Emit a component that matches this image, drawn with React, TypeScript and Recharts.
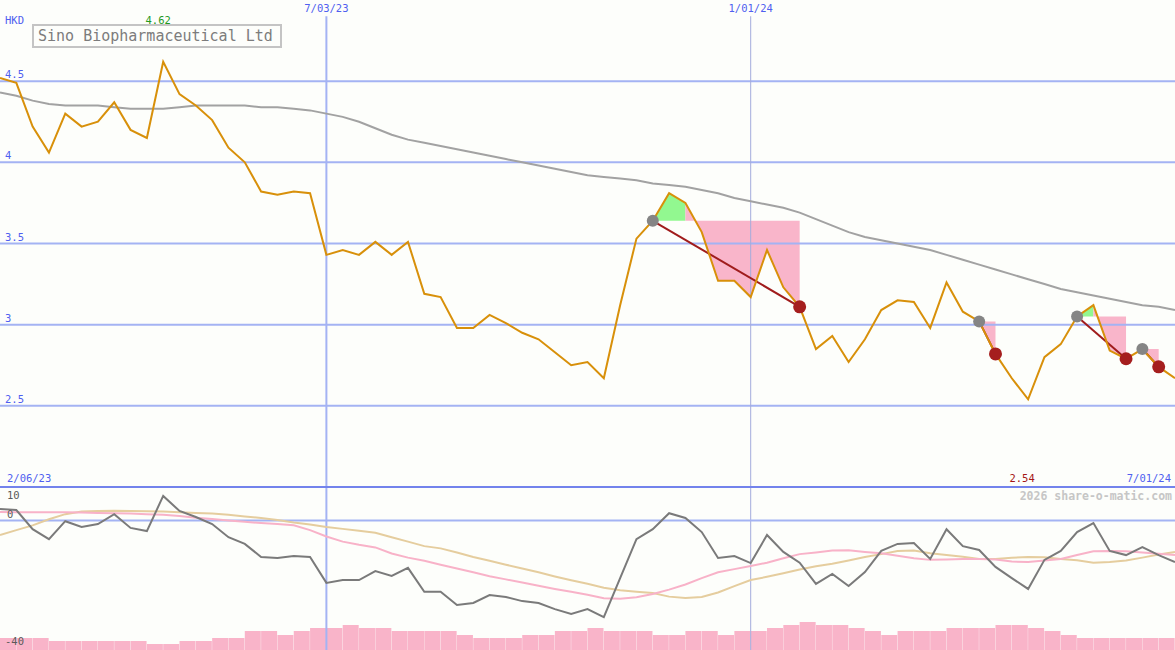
import React from 'react';
import { ComposedChart, BarChart, Bar, Line, Area, XAxis, YAxis, ReferenceLine } from 'recharts';

const W = 1175;
const TOP_H = 487;
const LOW_H = 163;

// weekly closes, HKD
const price = [
  4.52, 4.49, 4.22, 4.06, 4.3, 4.22, 4.25, 4.37, 4.2, 4.15,
  4.62, 4.42, 4.35, 4.26, 4.09, 4.0, 3.82, 3.8, 3.82, 3.81,
  3.43, 3.46, 3.43, 3.51, 3.43, 3.51, 3.19, 3.17, 2.98, 2.98,
  3.06, 3.01, 2.95, 2.91, 2.83, 2.75, 2.77, 2.67, 3.12, 3.53,
  3.64, 3.81, 3.75, 3.57, 3.27, 3.27, 3.17, 3.46, 3.23, 3.11,
  2.85, 2.93, 2.77, 2.91, 3.09, 3.15, 3.14, 2.98, 3.26, 3.08,
  3.02, 2.82, 2.67, 2.54, 2.8, 2.88, 3.05, 3.12, 2.84, 2.79,
  2.85, 2.74, 2.67,
];

// long moving average (grey)
const longMa = [
  4.43, 4.41, 4.38, 4.36, 4.35, 4.35, 4.35, 4.34, 4.33, 4.33,
  4.33, 4.34, 4.35, 4.35, 4.35, 4.35, 4.34, 4.34, 4.33, 4.32,
  4.3, 4.28, 4.25, 4.21, 4.17, 4.14, 4.12, 4.1, 4.08, 4.06,
  4.04, 4.02, 4.0, 3.98, 3.96, 3.94, 3.92, 3.91, 3.9, 3.89,
  3.87, 3.86, 3.85, 3.83, 3.81, 3.78, 3.76, 3.74, 3.72, 3.69,
  3.65, 3.61, 3.57, 3.54, 3.52, 3.5, 3.48, 3.46, 3.43, 3.4,
  3.37, 3.34, 3.31, 3.28, 3.25, 3.22, 3.2, 3.18, 3.16, 3.14,
  3.12, 3.11, 3.09,
];

// lower panel oscillator
const momentum = [
  3.6, 3.3, -2.7, -5.8, -0.2, -2.0, -1.1, 2.0, -2.3, -3.3,
  7.7, 3.0, 1.1, -1.1, -5.2, -7.3, -11.4, -11.7, -11.1, -11.4,
  -19.5, -18.6, -18.6, -15.8, -17.3, -14.8, -22.3, -22.3, -26.4, -25.8,
  -23.3, -23.9, -25.2, -25.8, -27.7, -29.2, -27.7, -30.2, -18.0, -5.8,
  -2.7, 2.3, 0.8, -3.6, -11.7, -11.1, -13.3, -4.5, -9.8, -13.2,
  -19.8, -16.7, -20.5, -16.1, -9.5, -7.3, -7.0, -12.0, -2.7, -8.0,
  -9.2, -14.5, -18.0, -21.4, -12.3, -9.5, -3.6, -0.8, -9.5, -10.8,
  -8.3, -10.8, -13.0,
];

const momentumFast = [
  2.7, 2.6, 2.6, 2.6, 2.6, 2.5, 2.4, 2.3, 2.2, 2.0,
  1.8, 1.4, 0.9, 0.5, 0.0, -0.4, -0.8, -1.1, -1.5, -3.0,
  -5.0, -6.6, -7.6, -8.4, -10.3, -11.6, -12.6, -13.8, -15.0, -16.2,
  -17.4, -18.4, -19.4, -20.4, -21.4, -22.3, -23.2, -24.3, -24.5, -24.0,
  -23.0, -21.6, -20.0, -18.0, -16.2, -15.2, -14.2, -13.2, -11.8, -10.5,
  -10.0, -9.4, -9.3, -9.8, -10.2, -11.0, -11.8, -12.3, -12.2, -12.0,
  -12.0, -12.2, -12.8, -13.0, -12.5, -12.0, -10.8, -9.6, -9.5, -9.6,
  -10.0, -10.4, -10.8,
];

const momentumSlow = [
  -4.5, -3.0, -1.5, 0.4, 2.0, 2.8, 3.0, 3.1, 3.0, 2.9,
  2.8, 2.6, 2.4, 2.2, 1.8, 1.3, 0.8, 0.2, -0.6, -1.2,
  -2.0, -2.6, -3.2, -3.8, -5.2, -6.6, -8.0, -8.7, -10.0, -11.4,
  -12.6, -13.8, -15.0, -16.2, -17.5, -18.7, -19.8, -21.0, -21.8, -22.3,
  -22.7, -23.8, -24.2, -23.9, -22.5, -20.5, -18.6, -17.6, -16.5, -15.3,
  -14.3, -13.5, -12.5, -11.4, -10.5, -9.5, -9.4, -10.2, -10.8, -11.3,
  -12.0, -12.0, -11.6, -11.4, -11.5, -12.0, -12.4, -13.2, -13.0, -12.5,
  -11.6, -10.6, -9.8,
];

// weekly volume (relative), one per week interval
const volume = [
  12, 12, 12, 9, 9, 9, 9, 9, 9, 6,
  6, 9, 9, 12, 12, 19, 19, 15, 19, 22,
  22, 25, 22, 22, 19, 19, 19, 19, 15, 12,
  12, 12, 15, 15, 19, 19, 22, 19, 19, 19,
  15, 15, 19, 19, 15, 19, 19, 22, 25, 28,
  25, 25, 22, 19, 15, 19, 19, 19, 22, 22,
  22, 25, 25, 22, 19, 15, 12, 12, 12, 12,
  12, 12,
];

const dateLabels = ['2/06/23', '7/03/23', '1/01/24', '7/01/24'];
const dateIndex = [0, 20, 46, 72];

// signal trades: entry week, best week, exit week
const signalStart = [40, 60, 66, 70];
const signalPeak = [42, 60, 67, 70];
const signalEnd = [49, 61, 69, 71];

const priceTicks = [2.5, 3, 3.5, 4, 4.5];
const oscTicks = [10, 0, -40];

const maxIdx = price.indexOf(Math.max(...price));
const minIdx = price.indexOf(Math.min(...price));

const rows = price.map((p, i) => {
  const row: Record<string, any> = {
    i,
    price: p,
    ma: longMa[i],
    mom: momentum[i],
    fast: momentumFast[i],
    slow: momentumSlow[i],
  };
  signalStart.forEach((s, k) => {
    const level = price[s];
    if (signalPeak[k] > s && i >= s && i <= signalPeak[k]) row['g' + k] = [level, p];
    if (i >= signalPeak[k] && i <= signalEnd[k]) row['p' + k] = [p, level];
    if (i === s || i === signalEnd[k]) row['t' + k] = p;
    if (i === s) row.entry = p;
    if (i === signalEnd[k]) row.exit = p;
  });
  return row;
});

const volRows = volume.map((v, i) => ({ wk: i, mid: i + 0.5, vol: v }));

const mono = '"DejaVu Sans Mono", "Liberation Mono", monospace';
const blue = '#4f5ff0';
const grid = '#a4b3f3';

const PriceTick = (props: any) => {
  const { y, payload } = props;
  return (
    <text x={5} y={y - 6} fill={blue} fontSize={10.5} fontFamily={mono} dominantBaseline="middle">
      {payload.value}
    </text>
  );
};

const DateTick = (props: any) => {
  const { x, payload } = props;
  const v = payload.value;
  if (v === maxIdx) {
    return (
      <text x={x - 5} y={21} fill="#1f9a1f" fontSize={10.5} fontFamily={mono} textAnchor="middle" dominantBaseline="middle">
        {price[v].toFixed(2)}
      </text>
    );
  }
  if (v === minIdx) {
    return (
      <text x={x - 6} y={479} fill="#a51616" fontSize={10.5} fontFamily={mono} textAnchor="middle" dominantBaseline="middle">
        {price[v].toFixed(2)}
      </text>
    );
  }
  const label = dateLabels[dateIndex.indexOf(v)];
  if (v === dateIndex[0]) {
    return (
      <text x={x + 7} y={479} fill={blue} fontSize={10.5} fontFamily={mono} dominantBaseline="middle">
        {label}
      </text>
    );
  }
  if (v === dateIndex[dateIndex.length - 1]) {
    return (
      <text x={x - 4} y={479} fill={blue} fontSize={10.5} fontFamily={mono} textAnchor="end" dominantBaseline="middle">
        {label}
      </text>
    );
  }
  return (
    <text x={x} y={9} fill={blue} fontSize={10.5} fontFamily={mono} textAnchor="middle" dominantBaseline="middle">
      {label}
    </text>
  );
};

const OscTick = (props: any) => {
  const { y, payload } = props;
  const v = payload.value;
  const dy = v === oscTicks[0] ? 7 : -6;
  return (
    <text x={v < 0 ? 5 : 7} y={y + dy} fill="#5a5a5a" fontSize={10.5} fontFamily={mono} dominantBaseline="middle">
      {v}
    </text>
  );
};

const App = () => {
  return (
    <div style={{ position: 'absolute', left: 0, top: 0, width: W, height: TOP_H + LOW_H, background: '#fdfefb', overflow: 'hidden' }}>
      <div style={{ position: 'absolute', left: 0, top: 0 }}>
        <ComposedChart width={W} height={TOP_H} data={rows} margin={{ top: 0, right: 0, bottom: 0, left: 0 }}>
          <XAxis
            dataKey="i"
            type="number"
            domain={[0, 72]}
            ticks={[...dateIndex, maxIdx, minIdx]}
            interval={0}
            mirror
            height={20}
            axisLine={false}
            tickLine={false}
            tick={DateTick}
          />
          <YAxis
            type="number"
            domain={[2, 5]}
            ticks={priceTicks}
            interval={0}
            mirror
            width={30}
            axisLine={false}
            tickLine={false}
            tick={PriceTick}
          />
          {priceTicks.map((t) => (
            <ReferenceLine key={t} y={t} stroke={grid} strokeWidth={2} />
          ))}
          <ReferenceLine segment={[{ x: dateIndex[1], y: 4.9 }, { x: dateIndex[1], y: 2 }]} stroke={grid} strokeWidth={2} />
          <ReferenceLine segment={[{ x: dateIndex[2], y: 4.9 }, { x: dateIndex[2], y: 2 }]} stroke="#a3acdc" strokeWidth={1} />
          {signalStart.map((_, k) => (
            <Area key={'g' + k} dataKey={'g' + k} type="linear" stroke="none" fill="#92f890" fillOpacity={1} isAnimationActive={false} activeDot={false} />
          ))}
          {signalStart.map((_, k) => (
            <Area key={'p' + k} dataKey={'p' + k} type="linear" stroke="none" fill="#f9b5ca" fillOpacity={1} isAnimationActive={false} activeDot={false} />
          ))}
          <Line dataKey="ma" type="linear" stroke="#a2a2a2" strokeWidth={2} dot={false} activeDot={false} isAnimationActive={false} />
          {signalStart.map((_, k) => (
            <Line key={'t' + k} dataKey={'t' + k} type="linear" connectNulls stroke="#a01c1c" strokeWidth={2} dot={false} activeDot={false} isAnimationActive={false} />
          ))}
          <Line dataKey="entry" stroke="none" dot={{ r: 6, fill: '#858585', stroke: 'none' }} activeDot={false} isAnimationActive={false} />
          <Line dataKey="exit" stroke="none" dot={{ r: 6.5, fill: '#a51e1e', stroke: 'none' }} activeDot={false} isAnimationActive={false} />
          <Line dataKey="price" type="linear" stroke="#d8900a" strokeWidth={2} dot={false} activeDot={false} isAnimationActive={false} />
        </ComposedChart>
      </div>

      <div style={{ position: 'absolute', left: 0, top: TOP_H }}>
        <BarChart width={W} height={LOW_H} data={volRows} margin={{ top: 0, right: 0, bottom: 0, left: 0 }} barCategoryGap={0} barGap={0}>
          <XAxis dataKey="wk" type="category" hide />
          <XAxis xAxisId="pos" dataKey="mid" type="number" domain={[0, 72]} hide />
          <YAxis type="number" domain={[0, LOW_H]} hide />
          <ReferenceLine xAxisId="pos" x={dateIndex[1]} stroke={grid} strokeWidth={2} />
          <ReferenceLine xAxisId="pos" x={dateIndex[2]} stroke="#a3acdc" strokeWidth={1} />
          <Bar dataKey="vol" fill="#f9b4c9" isAnimationActive={false} />
        </BarChart>
      </div>

      <div style={{ position: 'absolute', left: 0, top: TOP_H }}>
        <ComposedChart width={W} height={LOW_H} data={rows} margin={{ top: 0, right: 0, bottom: 0, left: 0 }}>
          <XAxis dataKey="i" type="number" domain={[0, 72]} hide />
          <YAxis
            type="number"
            domain={[-40.5, 10.5]}
            ticks={oscTicks}
            interval={0}
            mirror
            width={30}
            axisLine={false}
            tickLine={false}
            tick={OscTick}
          />
          <ReferenceLine y={0} stroke={grid} strokeWidth={2} />
          <Line dataKey="slow" type="linear" stroke="#e5cd9e" strokeWidth={2} dot={false} activeDot={false} isAnimationActive={false} />
          <Line dataKey="fast" type="linear" stroke="#f8b2c8" strokeWidth={2} dot={false} activeDot={false} isAnimationActive={false} />
          <Line dataKey="mom" type="linear" stroke="#7a7a7a" strokeWidth={2} dot={false} activeDot={false} isAnimationActive={false} />
        </ComposedChart>
      </div>

      <div style={{ position: 'absolute', left: 0, top: TOP_H - 1, width: W, height: 2, background: '#7383ec' }} />

      <div style={{ position: 'absolute', left: 5, top: 14, fontFamily: mono, fontSize: 10.5, color: blue, lineHeight: '12px' }}>HKD</div>
      <div
        style={{
          position: 'absolute',
          left: 32,
          top: 24,
          width: 242,
          height: 20,
          border: '2px solid #c4c4c4',
          fontFamily: mono,
          fontSize: 15,
          lineHeight: '20px',
          color: '#7c7c7c',
          paddingLeft: 4,
          boxSizing: 'content-box',
          whiteSpace: 'nowrap',
        }}
      >
        Sino Biopharmaceutical Ltd
      </div>
      <div
        style={{
          position: 'absolute',
          right: 3,
          top: 489,
          fontFamily: mono,
          fontSize: 11.5,
          fontWeight: 'bold',
          color: '#c6c6c6',
          lineHeight: '14px',
        }}
      >
        2026 share-o-matic.com
      </div>
    </div>
  );
};

export default App;
